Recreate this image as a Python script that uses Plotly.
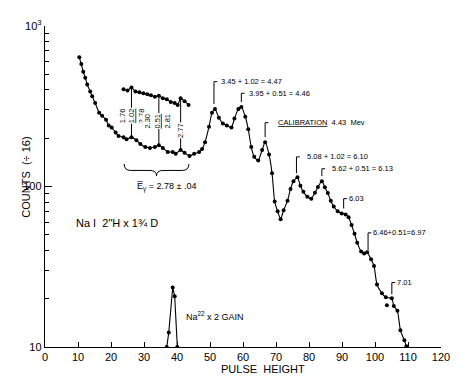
import numpy as np
import plotly.graph_objects as go

# ---- data ----
main_x = [10.4, 11.0, 11.6, 12.2, 12.8, 13.7, 14.3, 15.2, 16.4, 17.3, 18.5, 19.3, 20.2, 21.4, 22.3,
          23.8, 24.7, 26.2, 27.7, 28.9, 30.4, 31.8, 33.3, 34.5, 35.7, 37.2, 38.7, 39.6, 41.1, 42.3,
          43.8, 45.2, 46.7, 47.6, 48.5, 49.7, 50.6, 51.5, 52.7, 53.9, 55.1, 56.5, 57.4, 58.6, 59.5,
          60.7, 61.6, 62.5, 63.4, 64.6, 65.8, 66.7, 67.9, 68.8, 69.6, 70.5, 71.4, 72.3, 73.5, 74.4,
          75.3, 76.5, 77.4, 78.3, 79.5, 80.7, 81.8, 82.7, 83.9, 84.8, 85.7, 86.6, 87.5, 88.7, 89.9,
          91.1, 92.0, 92.9, 93.8, 94.6, 95.8, 96.7, 97.6, 98.8, 99.7, 100.6, 102.1, 103.3, 105.1,
          105.7, 106.8, 107.7, 108.9, 109.5]
main_counts = [638, 579, 518, 476, 432, 391, 365, 331, 288, 276, 261, 240, 233, 217, 206,
               203, 197, 203, 194, 184, 176, 174, 176, 181, 174, 164, 164, 160, 169, 162,
               155, 160, 164, 171, 189, 236, 288, 304, 268, 247, 240, 233, 265, 304, 313,
               272, 227, 176, 153, 145, 169, 189, 158, 121, 80.5, 70, 62.6, 71, 81.6, 96.6,
               108, 114, 101, 92.6, 86.3, 84, 91.3, 99.3, 108, 99, 91, 81.6, 75, 70, 68,
               67, 64.4, 57.5, 50.7, 44.7, 39.4, 38.3, 38.9, 35.2, 32, 24.5, 21.6, 20.4, 20.1,
               18, 16.8, 12.7, 11, 10.1]

stray_x = [103.6]
stray_counts = [18.2]

upper_x = [23.8, 25.0, 26.2, 27.4, 28.6, 29.8, 31.0, 32.1, 33.3, 34.5, 35.7, 36.9, 38.1, 39.3,
           40.2, 41.1, 42.3, 43.5]
upper_counts = [403, 397, 414, 391, 386, 381, 375, 370, 362, 367, 355, 350, 336, 331,
                322, 355, 340, 322]

na_x = [36.9, 37.5, 38.7, 39.3, 40.1]
na_counts = [10, 12.3, 23.5, 20.7, 10]

x_ticks = [0, 10, 20, 30, 40, 50, 60, 70, 80, 90, 100, 110, 120]
y_ticks = [10, 100, 1000]
y_ticktext = ["10", "100", "10<sup>3</sup>"]

peak_labels = ["3.45 + 1.02 = 4.47", "3.95 + 0.51 = 4.46", "<u>CALIBRATION</u>  4.43  Mev",
               "5.08 + 1.02 = 6.10", "5.62 + 0.51 = 6.13", "6.03", "6.46+0.51=6.97", "7.01"]
peak_x = [51.2, 59.5, 66.7, 76.2, 83.9, 90.5, 97.9, 105.1]
peak_bottom = [327, 336, 203, 121, 116, 73, 40, 21.3]
peak_top = [450, 381, 250, 153, 129, 84, 51.4, 25.2]
label_x = [52.6, 61.2, 70.0, 78.8, 86.4, 91.6, 98.8, 106.2]

sum_labels = ["1.76<br><u>1.02</u><br>2.78", "2.30<br><u>0.51</u><br>2.81", "2.77"]
sum_x = [26.2, 34.5, 41.1]
sum_top = [414, 367, 355]
sum_bottom = [203, 181, 169]
sum_label_x = [26.5, 34.2, 41.1]
sum_label_y = [276, 257, 224]

FONT = "Liberation Sans"
ink = "black"

fig = go.Figure()
fig.add_trace(go.Scatter(x=main_x, y=main_counts, mode="lines+markers",
                         line=dict(color=ink, width=1.1, shape="spline", smoothing=0.5),
                         marker=dict(color=ink, size=4), showlegend=False))
fig.add_trace(go.Scatter(x=stray_x, y=stray_counts, mode="markers",
                         marker=dict(color=ink, size=4), showlegend=False))
fig.add_trace(go.Scatter(x=upper_x, y=upper_counts, mode="lines+markers",
                         line=dict(color=ink, width=1.1, shape="spline", smoothing=0.5),
                         marker=dict(color=ink, size=4), showlegend=False))
fig.add_trace(go.Scatter(x=na_x, y=na_counts, mode="lines+markers",
                         line=dict(color=ink, width=1.1),
                         marker=dict(color=ink, size=4), showlegend=False))

shapes = []
for xv, yb, yt in zip(peak_x, peak_bottom, peak_top):
    shapes.append(dict(type="line", xref="x", yref="y", x0=xv, x1=xv, y0=yb, y1=yt,
                       line=dict(color=ink, width=1)))
    shapes.append(dict(type="line", xref="x", yref="y", x0=xv, x1=xv + 1.0, y0=yt, y1=yt,
                       line=dict(color=ink, width=1)))
for xv, yt, yb in zip(sum_x, sum_top, sum_bottom):
    shapes.append(dict(type="line", xref="x", yref="y", x0=xv, x1=xv, y0=yb, y1=yt,
                       line=dict(color=ink, width=1)))
# brace under the 2.78 region
shapes.append(dict(type="path", xref="x", yref="paper",
                   path="M 24.0,0.570 Q 24.0,0.550 26.0,0.550 L 31.8,0.550 Q 33.8,0.550 33.8,0.533 "
                        "Q 33.8,0.550 35.8,0.550 L 41.6,0.550 Q 43.6,0.550 43.6,0.570",
                   line=dict(color=ink, width=1)))

ann = []
for t, lx, yt in zip(peak_labels, label_x, peak_top):
    ann.append(dict(text=t, x=lx, y=np.log10(yt), xref="x", yref="y", xanchor="left",
                    yanchor="middle", showarrow=False, font=dict(family=FONT, size=7.5, color=ink)))
for t, lx, ly in zip(sum_labels, sum_label_x, sum_label_y):
    ann.append(dict(text=t, x=lx, y=np.log10(ly), xref="x", yref="y", textangle=-90,
                    showarrow=False, bgcolor="white", borderpad=0,
                    font=dict(family=FONT, size=7.5, color=ink)))
ann.append(dict(text="E\u0305<sub>γ</sub> = 2.78 ± .04", x=36.9, y=2.0, xref="x", yref="y",
                showarrow=False, font=dict(family=FONT, size=9, color=ink)))
ann.append(dict(text="Na I  2\"H x 1¾ D", x=8.9, y=np.log10(59), xref="x", yref="y",
                xanchor="left", showarrow=False, font=dict(family=FONT, size=11, color=ink)))
ann.append(dict(text="Na<sup>22</sup> x 2 GAIN", x=42.0, y=np.log10(15.7), xref="x", yref="y",
                xanchor="left", showarrow=False, font=dict(family=FONT, size=9, color=ink)))
ann.append(dict(text="PULSE  HEIGHT", x=0.551, y=-0.045, xref="paper", yref="paper",
                yanchor="top", showarrow=False, font=dict(family=FONT, size=11, color=ink)))
ann.append(dict(text="COUNTS  (÷ 16)", x=-0.067, y=0.529, xref="paper", yref="paper",
                textangle=-90, showarrow=False, font=dict(family=FONT, size=11, color=ink)))

# the page body adds an 8px offset, so the figure is 8px smaller and margins compensate
fig.update_layout(
    width=452, height=368,
    margin=dict(l=37, r=12, t=10, b=29),
    paper_bgcolor="white", plot_bgcolor="white",
    shapes=shapes, annotations=ann,
    xaxis=dict(range=[0, 120], tickmode="array", tickvals=x_ticks, ticks="inside", ticklen=5,
               tickcolor=ink, showline=True, linecolor=ink, linewidth=1.4, showgrid=False,
               zeroline=False, tickfont=dict(family=FONT, size=11, color=ink)),
    yaxis=dict(type="log", range=[1, 3], tickmode="array", tickvals=y_ticks, ticktext=y_ticktext,
               ticks="inside", ticklen=7, tickcolor=ink, showline=True, linecolor=ink,
               linewidth=1.4, showgrid=False, zeroline=False,
               tickfont=dict(family=FONT, size=11, color=ink),
               minor=dict(tickmode="array",
                          tickvals=[20, 30, 40, 50, 60, 70, 80, 90, 200, 300, 400, 500, 600, 700, 800, 900],
                          ticks="inside", ticklen=4, tickcolor=ink, showgrid=False)),
)

fig.write_html("out.html")
